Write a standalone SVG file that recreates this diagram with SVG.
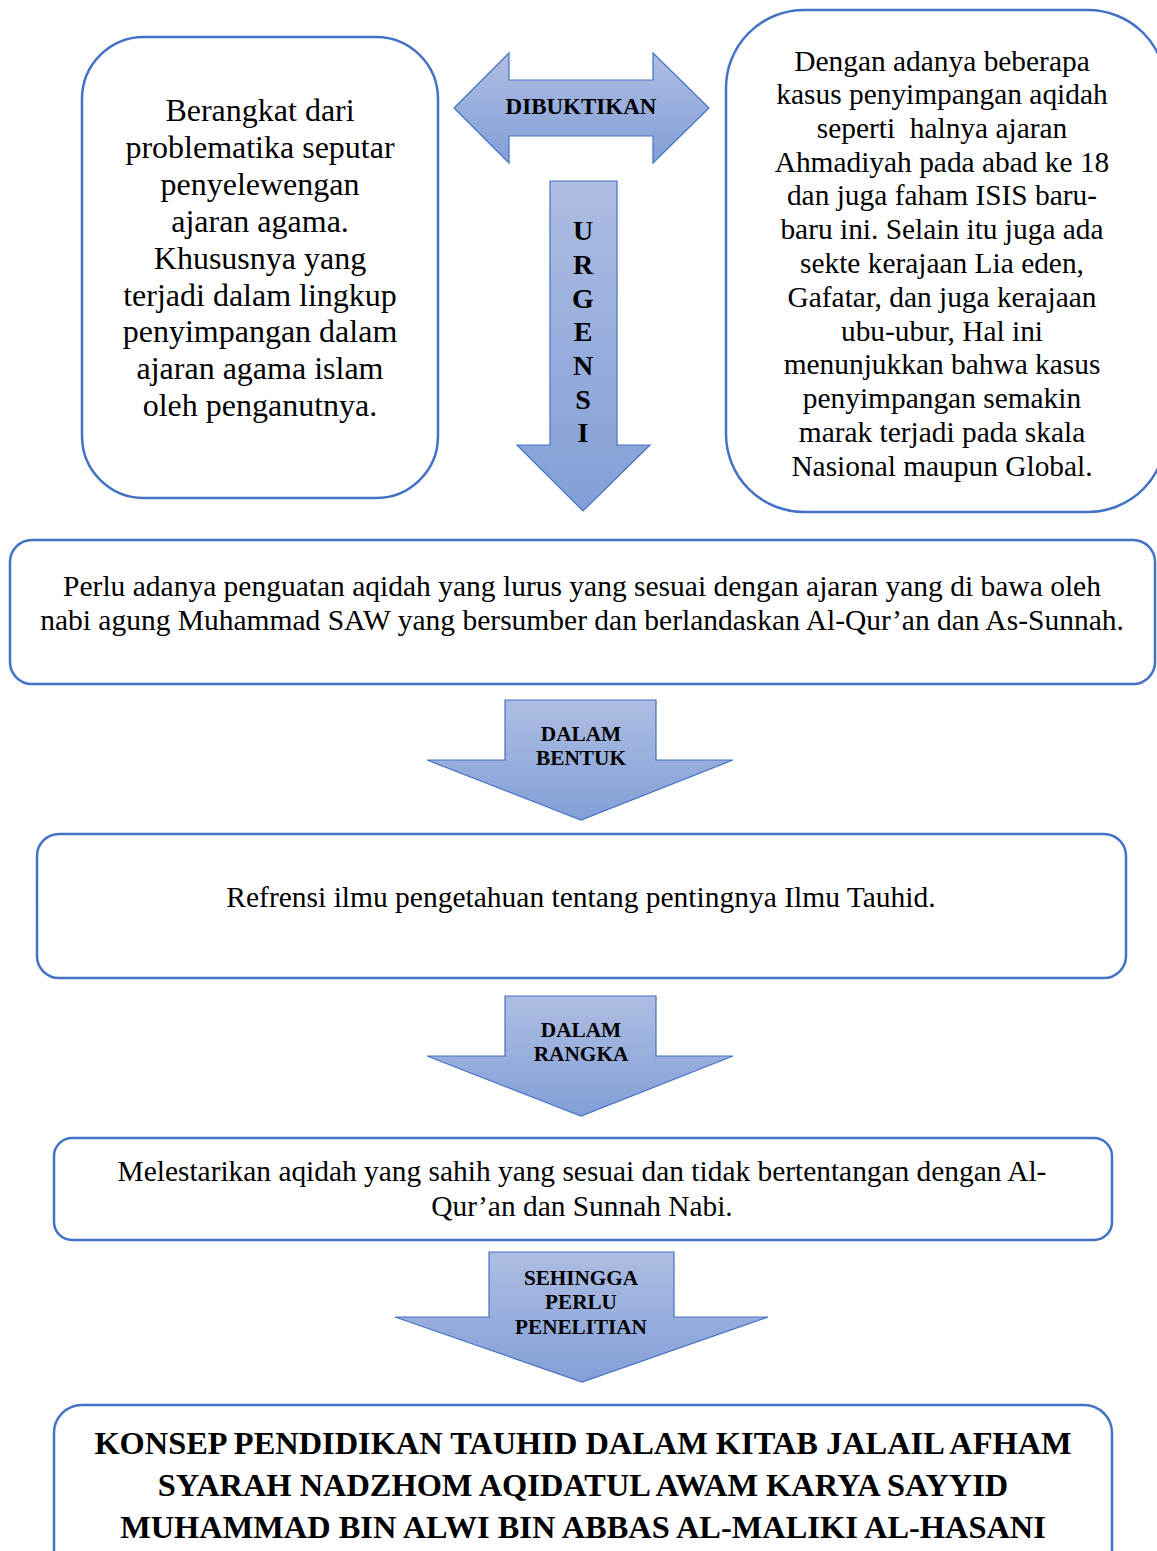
<svg xmlns="http://www.w3.org/2000/svg" width="1157" height="1551" viewBox="0 0 1157 1551">
<style>
.box{fill:#fff;stroke:#4472C4;stroke-width:2.5}
.arr{fill:url(#g);stroke:#4472C4;stroke-width:1.2}
.t{font-family:"Liberation Serif","Times New Roman",serif;fill:#000;text-anchor:middle}
.b{font-family:"Liberation Serif","Times New Roman",serif;font-weight:bold;fill:#000;text-anchor:middle}
</style>
<defs>
<linearGradient id="g" x1="0" y1="0" x2="0" y2="1">
<stop offset="0" stop-color="#aebde2"/>
<stop offset="1" stop-color="#829fd7"/>
</linearGradient>
</defs>
<rect width="1157" height="1551" fill="#fff"/>
<g id="connectors">
<g id="arrow-dibuktikan">
<path class="arr" d="M454,108 L509,53 L509,80 L653,80 L653,53 L709,108 L653,163 L653,136 L509,136 L509,163 Z"/>
<text class="b" x="581" y="114" font-size="23">DIBUKTIKAN</text>
</g>
<g id="arrow-urgensi">
<path class="arr" d="M550,181 L617,181 L617,445 L650,445 L583,511 L517,445 L550,445 Z"/>
<g class="b" font-size="28">
<text x="583" y="240">U</text>
<text x="583" y="274">R</text>
<text x="583" y="308">G</text>
<text x="583" y="341">E</text>
<text x="583" y="375">N</text>
<text x="583" y="409">S</text>
<text x="583" y="442">I</text>
</g>
</g>
<g id="arrow-bentuk">
<path class="arr" d="M505,700 L656,700 L656,760 L733,760 L581,820 L427,760 L505,760 Z"/>
<text class="b" x="581" y="741" font-size="21.3">DALAM</text>
<text class="b" x="581" y="765" font-size="21.3">BENTUK</text>
</g>
<g id="arrow-rangka">
<path class="arr" d="M505,996 L656,996 L656,1056 L733,1056 L581,1116 L427,1056 L505,1056 Z"/>
<text class="b" x="581" y="1037" font-size="21.3">DALAM</text>
<text class="b" x="581" y="1061" font-size="21.3">RANGKA</text>
</g>
<g id="arrow-sehingga">
<path class="arr" d="M489,1252 L674,1252 L674,1317 L768,1317 L582,1382 L395,1317 L489,1317 Z"/>
<text class="b" x="581" y="1285" font-size="21.2">SEHINGGA</text>
<text class="b" x="581" y="1309" font-size="21.2">PERLU</text>
<text class="b" x="581" y="1334" font-size="21.2">PENELITIAN</text>
</g>
</g>
<g id="node-left">
<rect class="box" x="82" y="37" width="356" height="461" rx="62" ry="62"/>
<g class="t" font-size="32">
<text x="260" y="121">Berangkat dari</text>
<text x="260" y="158">problematika seputar</text>
<text x="260" y="195">penyelewengan</text>
<text x="260" y="232">ajaran agama.</text>
<text x="260" y="269">Khususnya yang</text>
<text x="260" y="306">terjadi dalam lingkup</text>
<text x="260" y="342">penyimpangan dalam</text>
<text x="260" y="379">ajaran agama islam</text>
<text x="260" y="416">oleh penganutnya.</text>
</g>
</g>
<g id="node-right">
<rect class="box" x="726" y="10" width="440" height="502" rx="78" ry="78"/>
<g class="t" font-size="29.4">
<text x="942" y="71">Dengan adanya beberapa</text>
<text x="942" y="104">kasus penyimpangan aqidah</text>
<text x="942" y="138" xml:space="preserve">seperti  halnya ajaran</text>
<text x="942" y="172">Ahmadiyah pada abad ke 18</text>
<text x="942" y="205">dan juga faham ISIS baru-</text>
<text x="942" y="239">baru ini. Selain itu juga ada</text>
<text x="942" y="273">sekte kerajaan Lia eden,</text>
<text x="942" y="307">Gafatar, dan juga kerajaan</text>
<text x="942" y="341">ubu-ubur, Hal ini</text>
<text x="942" y="374">menunjukkan bahwa kasus</text>
<text x="942" y="408">penyimpangan semakin</text>
<text x="942" y="442">marak terjadi pada skala</text>
<text x="942" y="476">Nasional maupun Global.</text>
</g>
</g>
<g id="node-perlu">
<rect class="box" x="10" y="540" width="1145" height="144" rx="22" ry="22"/>
<text class="t" font-size="29.5" x="582" y="596">Perlu adanya penguatan aqidah yang lurus yang sesuai dengan ajaran yang di bawa oleh</text>
<text class="t" font-size="29.5" x="582" y="630">nabi agung Muhammad SAW yang bersumber dan berlandaskan Al-Qur’an dan As-Sunnah.</text>
</g>
<g id="node-refrensi">
<rect class="box" x="37" y="834" width="1089" height="144" rx="22" ry="22"/>
<text class="t" font-size="29.5" x="581" y="907">Refrensi ilmu pengetahuan tentang pentingnya Ilmu Tauhid.</text>
</g>
<g id="node-melestarikan">
<rect class="box" x="54" y="1138" width="1058" height="102" rx="18" ry="18"/>
<text class="t" font-size="29.4" x="582" y="1181">Melestarikan aqidah yang sahih yang sesuai dan tidak bertentangan dengan Al-</text>
<text class="t" font-size="29.4" x="582" y="1216">Qur’an dan Sunnah Nabi.</text>
</g>
<g id="node-konsep">
<rect class="box" x="54" y="1405" width="1058" height="180" rx="28" ry="28"/>
<g class="b" font-size="32.4">
<text x="583" y="1454">KONSEP PENDIDIKAN TAUHID DALAM KITAB JALAIL AFHAM</text>
<text x="583" y="1496">SYARAH NADZHOM AQIDATUL AWAM KARYA SAYYID</text>
<text x="583" y="1538">MUHAMMAD BIN ALWI BIN ABBAS AL-MALIKI AL-HASANI</text>
</g>
</g>
</svg>
